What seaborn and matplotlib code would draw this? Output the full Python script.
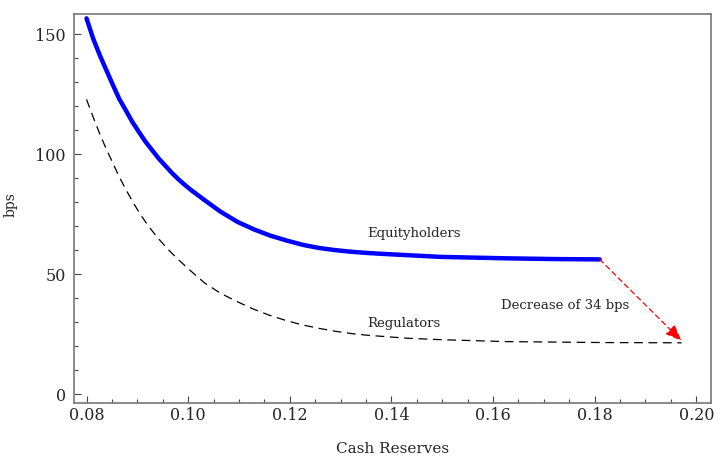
import pandas as pd
import matplotlib
matplotlib.use("Agg")
import matplotlib.pyplot as plt
import seaborn as sns
from matplotlib.ticker import MultipleLocator

# data
cash_equity = [0.0800, 0.0813, 0.0826, 0.0839, 0.0852, 0.0864, 0.0877, 0.0890,
               0.0903, 0.0916, 0.0929, 0.0942, 0.0955, 0.0968, 0.0981, 0.0994,
               0.1006, 0.1032, 0.1064, 0.1097, 0.1129, 0.1161, 0.1194, 0.1226,
               0.1258, 0.1290, 0.1323, 0.1355, 0.1387, 0.1497, 0.1626, 0.1720,
               0.1810]
equity_vals = [156.7, 148.3, 141.4, 135.1, 128.9, 123.3, 118.5, 113.6,
               109.4, 105.3, 101.8, 98.3, 95.3, 92.3, 89.6, 87.2,
               85.1, 81.0, 76.1, 71.9, 68.8, 66.2, 64.1, 62.3,
               61.0, 60.1, 59.4, 58.9, 58.5, 57.3, 56.7, 56.4,
               56.25]

cash_reg = [0.0800, 0.0813, 0.0826, 0.0839, 0.0852, 0.0864, 0.0877, 0.0890,
            0.0903, 0.0916, 0.0929, 0.0942, 0.0955, 0.0968, 0.0981, 0.0994,
            0.1006, 0.1032, 0.1064, 0.1097, 0.1129, 0.1161, 0.1194, 0.1226,
            0.1258, 0.1290, 0.1323, 0.1355, 0.1432, 0.1497, 0.1626, 0.1820,
            0.1971]
reg_vals = [122.9, 115.6, 108.6, 102.2, 96.3, 90.8, 85.6, 80.6,
            76.0, 71.9, 68.2, 64.8, 61.7, 58.8, 56.1, 53.6,
            51.3, 46.5, 42.1, 38.6, 35.5, 32.9, 30.7, 28.9,
            27.5, 26.3, 25.3, 24.6, 23.4, 22.8, 22.0, 21.6,
            21.5]

arrow_start = (0.1810, 56.25)
arrow_end = (0.1971, 22.3)

x_ticks = [0.08, 0.10, 0.12, 0.14, 0.16, 0.18, 0.20]
y_ticks = [0, 50, 100, 150]

sns.set_style("ticks")
plt.rcParams["font.family"] = ["DejaVu Serif"]

fig = plt.figure(figsize=(7.2, 4.58), dpi=100)
ax = fig.add_axes([0.1028, 0.12, 0.8847, 0.8494])

df_eq = pd.DataFrame({"x": cash_equity, "y": equity_vals})
df_reg = pd.DataFrame({"x": cash_reg, "y": reg_vals})

# equityholders (thick blue) and regulators (thin dashed black)
sns.lineplot(data=df_eq, x="x", y="y", ax=ax, color="#0000ff", lw=3.2)
sns.lineplot(data=df_reg, x="x", y="y", ax=ax, color="black", lw=0.9,
             linestyle=(0, (7, 4.5)))

ax.annotate("", xy=arrow_end, xytext=arrow_start,
            arrowprops=dict(arrowstyle="-|>,head_length=1.0,head_width=0.4",
                            color="red", lw=0.9, linestyle=(0, (4, 3)),
                            shrinkA=0, shrinkB=0))

ax.text(0.1352, 67.1, "Equityholders", fontsize=9.5, ha="left", va="center")
ax.text(0.1352, 29.6, "Regulators", fontsize=9.5, ha="left", va="center")
ax.text(0.1742, 37.2, "Decrease of 34 bps", fontsize=9.5, ha="center", va="center")

ax.set_xlim(0.07754, 0.2029)
ax.set_ylim(-3.6, 158.5)
ax.set_xticks(x_ticks)
ax.set_xticklabels([f"{v:.2f}" for v in x_ticks])
ax.set_yticks(y_ticks)
ax.xaxis.set_minor_locator(MultipleLocator(0.005))
ax.yaxis.set_minor_locator(MultipleLocator(10))
ax.tick_params(which="both", direction="in", top=False, right=False,
               labelsize=11.5, color="#444444", width=0.8)
ax.tick_params(which="major", length=5)
ax.tick_params(which="minor", length=3)
ax.tick_params(axis="x", which="major", pad=3)
ax.tick_params(axis="y", which="major", pad=6)

for s in ax.spines.values():
    s.set_color("#777777")
    s.set_linewidth(1.2)

ax.set_xlabel("Cash Reserves", fontsize=11, labelpad=13)
ax.set_ylabel("bps", fontsize=10)
ax.yaxis.set_label_coords(-0.088, 0.51)

fig.savefig("out.png", dpi=100)
plt.close(fig)
